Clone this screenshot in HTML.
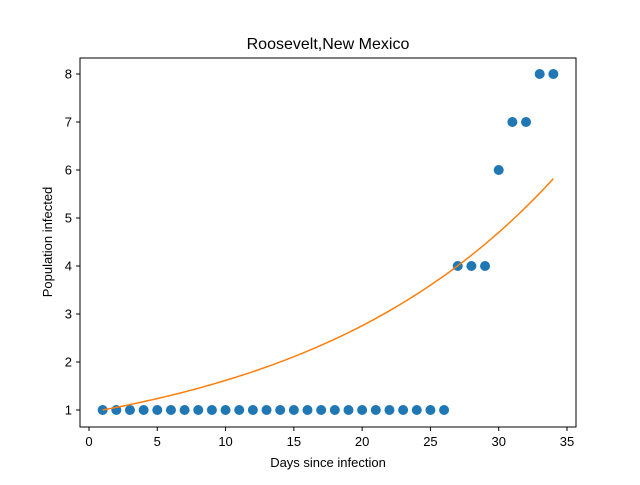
<!DOCTYPE html>
<html><head><meta charset="utf-8"><style>
body{margin:0;background:#fff}
svg text{font-family:"Liberation Sans","DejaVu Sans",sans-serif;fill:#000}
</style></head><body>
<svg id="chart" width="640" height="480" xmlns="http://www.w3.org/2000/svg">
<rect width="640" height="480" fill="#fff"/>
<text x="328" y="49" font-size="16" text-anchor="middle">Roosevelt,New Mexico</text>
<g id="plot"></g>
<rect x="80" y="58" width="496" height="369" fill="none" stroke="#000" stroke-width="1"/>
<text x="328" y="467" font-size="13" text-anchor="middle">Days since infection</text>
<text x="52" y="242" font-size="13" text-anchor="middle" transform="rotate(-90 52 242)">Population infected</text>
</svg>
<script>
const days=[1,2,3,4,5,6,7,8,9,10,11,12,13,14,15,16,17,18,19,20,21,22,23,24,25,26,27,28,29,30,31,32,33,34];
const infected=[1,1,1,1,1,1,1,1,1,1,1,1,1,1,1,1,1,1,1,1,1,1,1,1,1,1,4,4,4,6,7,7,8,8];
const fitA=[0.948];
const fitB=[0.05337];
const xTicks=[0,5,10,15,20,25,30,35];
const yTicks=[1,2,3,4,5,6,7,8];
const NS="http://www.w3.org/2000/svg";
const X=v=>89+v*13.657;
const Y=v=>410-(v-1)*48;
const g=document.getElementById('plot');
function mk(t,a){const e=document.createElementNS(NS,t);for(const k in a)e.setAttribute(k,a[k]);g.appendChild(e);return e;}
xTicks.forEach(t=>{
  const l=mk('line',{x1:X(t),x2:X(t),y1:427,y2:431,stroke:'#000'});
  
  
  const s=mk('text',{x:X(t),y:446,'font-size':13,'text-anchor':'middle'});s.textContent=t;
  
  
});
yTicks.forEach(t=>{
  const l=mk('line',{x1:76,x2:80,y1:Y(t),y2:Y(t),stroke:'#000'});
  
  
  const s=mk('text',{x:72,y:Y(t)+4.5,'font-size':13,'text-anchor':'end'});s.textContent=t;
  
  
});
days.forEach((d,i)=>{
  const c=mk('circle',{cx:X(d),cy:Y(infected[i]),r:5,fill:'#1f77b4'});
  
  
});
let pts=[];
for(let i=0;i<=100;i++){const x=days[0]+(days[days.length-1]-days[0])*i/100;pts.push(X(x).toFixed(2)+','+Y(fitA[0]*Math.exp(fitB[0]*x)).toFixed(2));}
const p=mk('polyline',{points:pts.join(' '),fill:'none',stroke:'#ff7f0e','stroke-width':1.5});


</script>
</body></html>
